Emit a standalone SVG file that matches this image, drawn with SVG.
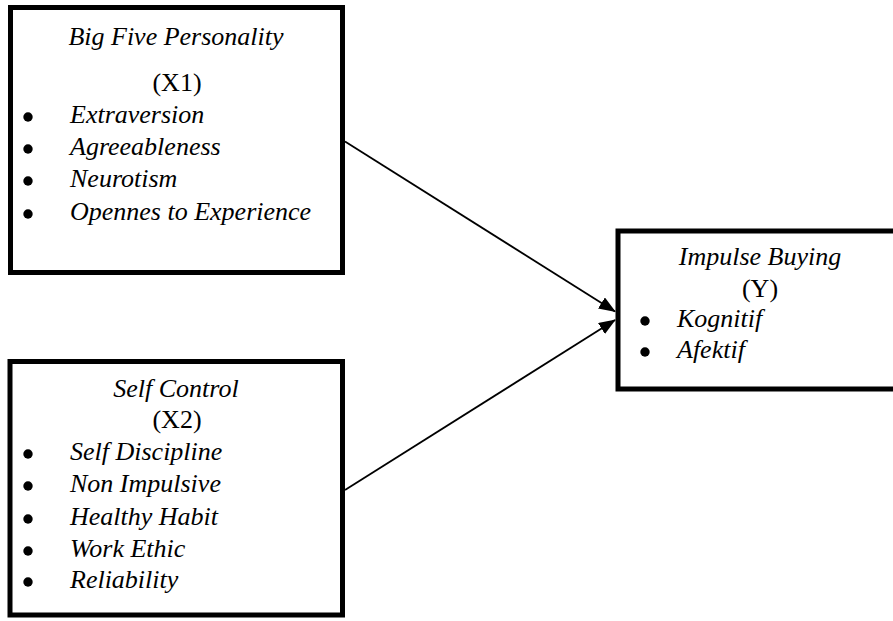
<svg xmlns="http://www.w3.org/2000/svg" width="893" height="621" viewBox="0 0 893 621">
<style>
.box{fill:#fff;stroke:#000;stroke-width:5}
.t{font-family:"Liberation Serif","Times New Roman",serif;font-size:26px;fill:#000}
.i{font-style:italic}
.c{text-anchor:middle}
.b{fill:#000}
.conn{stroke:#000;stroke-width:1.8;fill:none}
</style>
<defs>
<marker id="ah" markerWidth="17" markerHeight="13" refX="16" refY="6.5" orient="auto" markerUnits="userSpaceOnUse">
<path d="M0,0 L17,6.5 L0,13 Z" fill="#000"/>
</marker>
</defs>
<rect width="893" height="621" fill="#fff"/>
<g id="x1">
<rect class="box" x="10.5" y="7.5" width="332" height="265"/>
<text class="t i c" x="176" y="45">Big Five Personality</text>
<text class="t c" x="177" y="91">(X1)</text>
<circle class="b" cx="28" cy="117" r="4.7"/>
<circle class="b" cx="28" cy="149" r="4.7"/>
<circle class="b" cx="28" cy="181" r="4.7"/>
<circle class="b" cx="28" cy="214" r="4.7"/>
<text class="t i" x="70" y="123">Extraversion</text>
<text class="t i" x="70" y="155">Agreeableness</text>
<text class="t i" x="70" y="187">Neurotism</text>
<text class="t i" x="70" y="220">Opennes to Experience</text>
</g>
<g id="x2">
<rect class="box" x="10" y="361.5" width="332.5" height="253.5"/>
<text class="t i c" x="176" y="397">Self Control</text>
<text class="t c" x="177" y="428">(X2)</text>
<circle class="b" cx="28" cy="454" r="4.7"/>
<circle class="b" cx="28" cy="486" r="4.7"/>
<circle class="b" cx="28" cy="519" r="4.7"/>
<circle class="b" cx="28" cy="551" r="4.7"/>
<circle class="b" cx="28" cy="582" r="4.7"/>
<text class="t i" x="70" y="460">Self Discipline</text>
<text class="t i" x="70" y="492">Non Impulsive</text>
<text class="t i" x="70" y="525">Healthy Habit</text>
<text class="t i" x="70" y="557">Work Ethic</text>
<text class="t i" x="70" y="588">Reliability</text>
</g>
<g id="y">
<rect class="box" x="618" y="231" width="280" height="158"/>
<text class="t i c" x="760" y="265">Impulse Buying</text>
<text class="t c" x="760" y="297">(Y)</text>
<circle class="b" cx="645" cy="321" r="4.7"/>
<circle class="b" cx="645" cy="352" r="4.7"/>
<text class="t i" x="677" y="327">Kognitif</text>
<text class="t i" x="677" y="358">Afektif</text>
</g>
<g id="connectors">
<line class="conn" x1="345" y1="141.5" x2="615" y2="311.5" marker-end="url(#ah)"/>
<line class="conn" x1="345" y1="490" x2="615" y2="320" marker-end="url(#ah)"/>
</g>
</svg>
